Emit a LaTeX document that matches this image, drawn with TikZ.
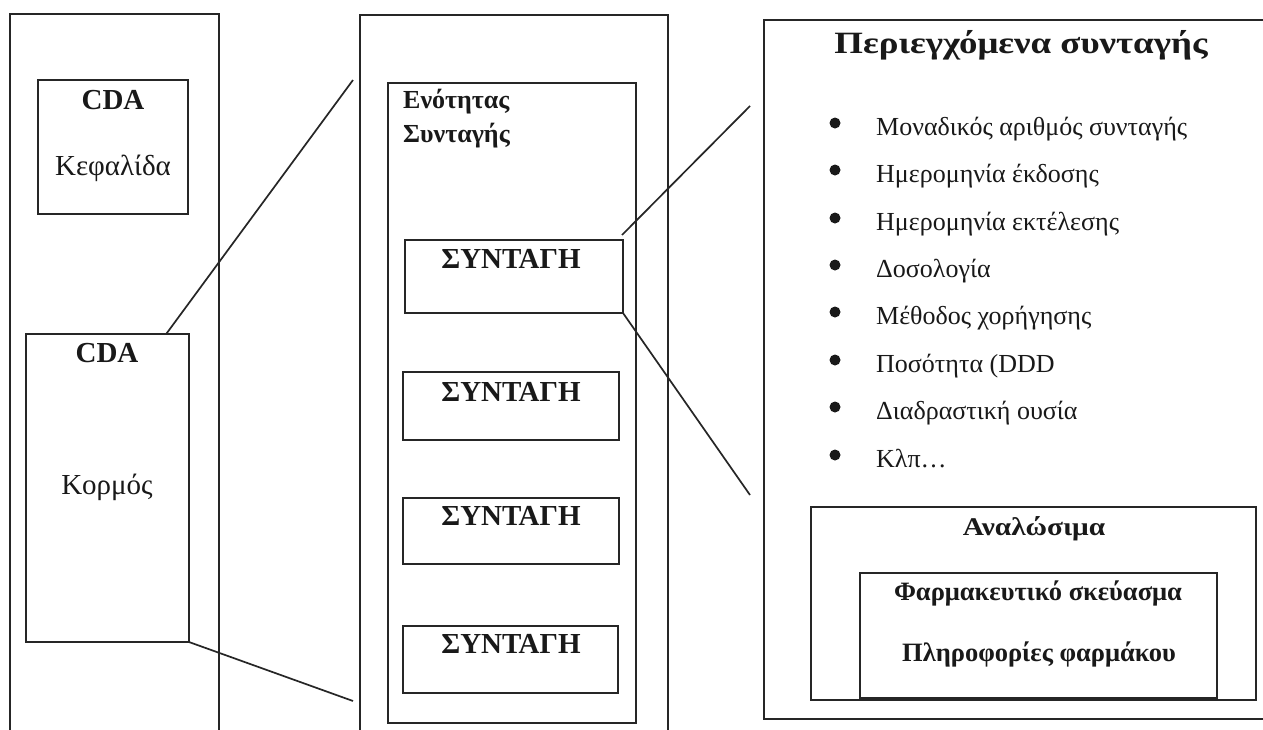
\documentclass[tikz,border=0pt]{standalone}
\usepackage{fontspec}
\setmainfont{Liberation Serif}
\newfontfamily\wideA[FakeStretch=1.19]{Liberation Serif}
\newfontfamily\wideB[FakeStretch=1.15]{Liberation Serif}
\usetikzlibrary{calc}
\newcommand\fBig{\fontsize{29}{34}\selectfont}
\newcommand\fMid{\fontsize{26}{31}\selectfont}
\newcommand\fItem{\fontsize{26}{31}\selectfont}
\newcommand\fTitle{\wideA\fontsize{31}{36}\selectfont}
\newcommand\fAnal{\wideB\fontsize{25.5}{30}\selectfont}
\newcommand\fSmall{\fontsize{26.5}{31}\selectfont}
\begin{document}
\begin{tikzpicture}[x=1pt,y=-1pt,
  box/.style={draw=black!85, line width=1.3pt, inner sep=0pt, outer sep=0pt, anchor=north west},
  conn/.style={draw=black!85, line width=1.7pt},
  lbl/.style={anchor=base, inner sep=0pt, text=black!90},
  dot/.style={circle, fill=black!90, inner sep=0pt, minimum size=11pt}]
\useasboundingbox (0,0) rectangle (1263,729);
\fill[white] (0,0) rectangle (1263,729);

% left column
\node[box, minimum width=209pt, minimum height=730pt] (outerL) at (10,14) {};
\node[box, minimum width=150pt, minimum height=134pt] (kef) at (38,80) {};
\node[box, minimum width=163pt, minimum height=308pt] (korm) at (26,334) {};
\node[lbl, font=\fBig\bfseries] (cda1) at (113,109) {CDA};
\node[lbl, font=\fBig] (kefl) at (113,175) {Κεφαλίδα};
\node[lbl, font=\fBig\bfseries] (cda2) at (107,362) {CDA};
\node[lbl, font=\fBig] (korml) at (107,494) {Κορμός};

% middle column
\node[box, minimum width=308pt, minimum height=730pt] (outerM) at (360,15) {};
\node[box, minimum width=248pt, minimum height=640pt] (enot) at (388,83) {};
\node[lbl, anchor=base west, font=\fMid\bfseries] (en1) at (403,108) {Ενότητας};
\node[lbl, anchor=base west, font=\fMid\bfseries] (en2) at (403,142) {Συνταγής};
\node[box, minimum width=218pt, minimum height=73pt] (s1) at (405,240) {};
\node[box, minimum width=216pt, minimum height=68pt] (s2) at (403,372) {};
\node[box, minimum width=216pt, minimum height=66pt] (s3) at (403,498) {};
\node[box, minimum width=215pt, minimum height=67pt] (s4) at (403,626) {};
\node[lbl, font=\fBig\bfseries] (s1l) at (511,268) {ΣΥΝΤΑΓΗ};
\node[lbl, font=\fBig\bfseries] (s2l) at (511,401) {ΣΥΝΤΑΓΗ};
\node[lbl, font=\fBig\bfseries] (s3l) at (511,525) {ΣΥΝΤΑΓΗ};
\node[lbl, font=\fBig\bfseries] (s4l) at (511,653) {ΣΥΝΤΑΓΗ};

% right column
\node[box, minimum width=510pt, minimum height=699pt] (outerR) at (764,20) {};
\node[lbl, font=\fTitle\bfseries] (title) at (1021,53) {Περιεγχόμενα συνταγής};
\foreach \b/\t [count=\i] in {135/Μοναδικός αριθμός συνταγής,
    182/Ημερομηνία έκδοσης,
    230/Ημερομηνία εκτέλεσης,
    277/Δοσολογία,
    324/Μέθοδος χορήγησης,
    372/Ποσότητα (DDD,
    419/Διαδραστική ουσία,
    467/Κλπ\dots}{
  \node[dot] (d\i) at (835,\b-12) {};
  \node[lbl, anchor=base west, font=\fItem] (it\i) at (876,\b) {\t};
}
\node[box, minimum width=445pt, minimum height=193pt] (anal) at (811,507) {};
\node[lbl, font=\fAnal\bfseries] (anall) at (1034,535) {Αναλώσιμα};
\node[box, minimum width=357pt, minimum height=125pt] (farm) at (860,573) {};
\node[lbl, font=\fSmall\bfseries] (farm1) at (1038,600) {Φαρμακευτικό σκεύασμα};
\node[lbl, font=\fSmall\bfseries] (farm2) at (1039,661) {Πληροφορίες φαρμάκου};

% connectors
\coordinate (e1) at (353,80);
\coordinate (e2) at (353,701);
\coordinate (e3) at (750,106);
\coordinate (e4) at (750,495);
\draw[conn] ($(korm.north west)!0.86!(korm.north east)$) -- (e1);
\draw[conn] (korm.south east) -- (e2);
\draw[conn] ([shift={(-1,-5)}]s1.north east) -- (e3);
\draw[conn] (s1.south east) -- (e4);
\end{tikzpicture}
\end{document}
